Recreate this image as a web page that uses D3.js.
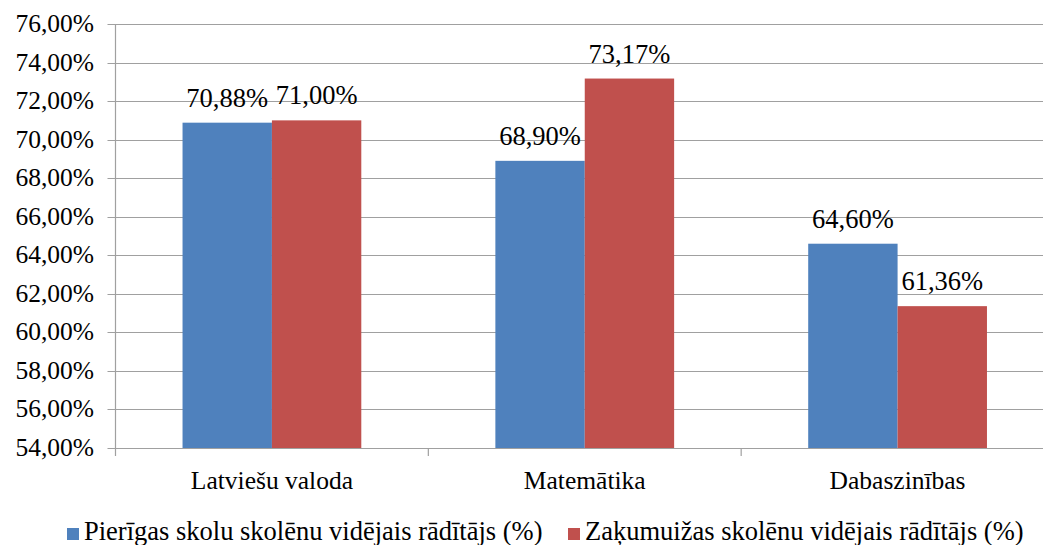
<html>
<head>
<meta charset="utf-8" />
<script src="https://cdnjs.cloudflare.com/ajax/libs/d3/7.8.5/d3.min.js"></script>
<style>
  body { margin: 0; background: #fff; }
</style>
</head>
<body>
<div id="chart"></div>
<script>
var categories = ["Latviešu valoda", "Matemātika", "Dabaszinības"];
var seriesNames = ["Pierīgas skolu skolēnu vidējais rādītājs (%)", "Zaķumuižas skolēnu vidējais rādītājs (%)"];
var pierigas = [70.88, 68.90, 64.60];
var zakumuizas = [71.00, 73.17, 61.36];
var yTicks = [54, 56, 58, 60, 62, 64, 66, 68, 70, 72, 74, 76];
var colors = ["#4F81BD", "#C0504D"];

var W = 1043, H = 545;
var mLeft = 115.5, mTop = 24, mBottom = 448, mRight = 1054;
var serif = "'Liberation Serif', 'Times New Roman', Times, 'DejaVu Serif', serif";

var svg = d3.select("#chart").append("svg")
  .attr("width", W).attr("height", H)
  .attr("font-family", serif);

var x = d3.scaleBand().domain(categories).range([mLeft, mRight]);
var xs = d3.scaleBand().domain([0, 1]).range([0, x.bandwidth()]).paddingOuter(0.75);
var y = d3.scaleLinear().domain([54, 76]).range([mBottom, mTop]);

function pct(v) { return v.toFixed(2).replace(".", ",") + "%"; }

// gridlines
svg.append("g").selectAll("line").data(yTicks).enter().append("line")
  .attr("x1", mLeft - 8).attr("x2", W)
  .attr("y1", function(d){ return Math.round(y(d)) + 0.5; })
  .attr("y2", function(d){ return Math.round(y(d)) + 0.5; })
  .style("stroke", "#a0a0a0").style("stroke-width", 1.2);

// y axis line
svg.append("line")
  .attr("x1", mLeft).attr("x2", mLeft).attr("y1", mTop).attr("y2", mBottom + 8)
  .style("stroke", "#a0a0a0").style("stroke-width", 1.2);

// category ticks
svg.append("g").selectAll("line").data(categories.slice(1)).enter().append("line")
  .attr("x1", function(d){ return x(d); }).attr("x2", function(d){ return x(d); })
  .attr("y1", mBottom).attr("y2", mBottom + 8)
  .style("stroke", "#a0a0a0").style("stroke-width", 1.2);

// y tick labels
svg.append("g").selectAll("text").data(yTicks).enter().append("text")
  .attr("x", 94).attr("y", function(d){ return y(d) + 8; })
  .attr("text-anchor", "end").style("font-family", serif).style("font-size", "25.5px")
  .text(function(d){ return pct(d); });

var rows = [];
categories.forEach(function(c, i){
  rows.push({cat: c, s: 0, v: pierigas[i]});
  rows.push({cat: c, s: 1, v: zakumuizas[i]});
});

svg.append("g").selectAll("rect").data(rows).enter().append("rect")
  .attr("x", function(d){ return x(d.cat) + xs(d.s); })
  .attr("width", xs.bandwidth())
  .attr("y", function(d){ return y(d.v); })
  .attr("height", function(d){ return mBottom - y(d.v); })
  .style("fill", function(d){ return colors[d.s]; });

svg.append("g").selectAll("text").data(rows).enter().append("text")
  .attr("x", function(d){ return x(d.cat) + xs(d.s) + xs.bandwidth() / 2; })
  .attr("y", function(d){ return y(d.v) - 16; })
  .attr("text-anchor", "middle").style("font-family", serif).style("font-size", "26.5px")
  .text(function(d){ return pct(d.v); });

// category labels
svg.append("g").selectAll("text").data(categories).enter().append("text")
  .attr("x", function(d){ return x(d) + x.bandwidth() / 2; })
  .attr("y", 489).attr("text-anchor", "middle").style("font-family", serif).style("font-size", "25.5px")
  .text(function(d){ return d; });

// legend
var lg = svg.append("g");
var lx = [67, 568];
seriesNames.forEach(function(n, i){
  lg.append("rect").attr("x", lx[i]).attr("y", 528).attr("width", 12).attr("height", 12)
    .style("fill", colors[i]);
  lg.append("text").attr("x", lx[i] + 17).attr("y", 540)
    .style("font-family", serif).style("font-size", "26.5px").text(n);
});
</script>
</body>
</html>
